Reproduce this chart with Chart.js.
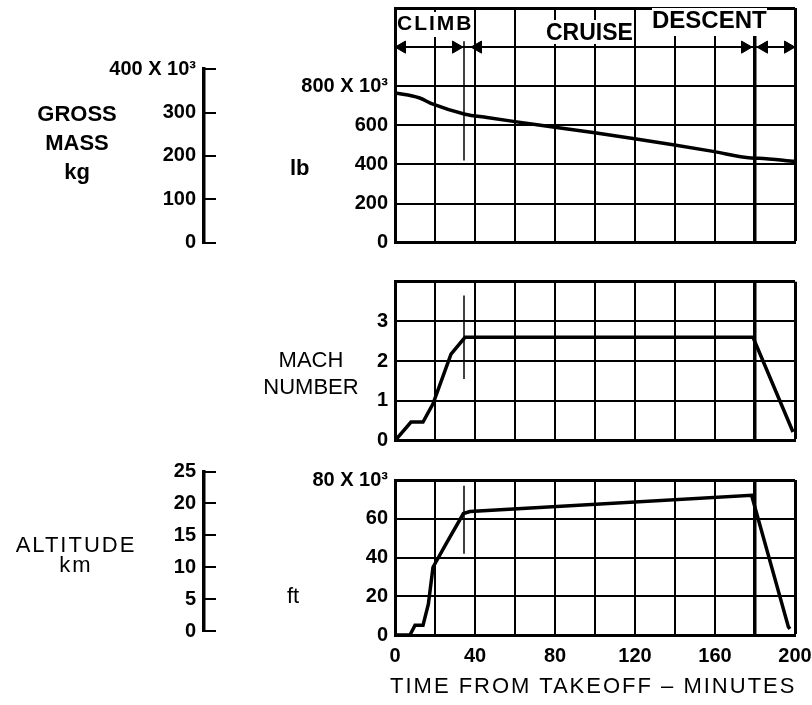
<!DOCTYPE html>
<html lang="en">
<head>
<meta charset="UTF-8">
<title>Mission profile</title>
<script src="https://cdn.jsdelivr.net/npm/chart.js"></script>
<style>
  body { margin: 0; background: #fff; color: #000; font-family: "Liberation Sans", Arial, sans-serif; }
  #wrap { position: relative; width: 812px; height: 705px; overflow: hidden; }
  canvas { position: absolute; left: 0; }
  .txt { position: absolute; font-size: 22px; line-height: 29px; white-space: nowrap; }
  .b { font-weight: bold; }
  .phase { position: absolute; background: #fff; font-weight: bold; white-space: nowrap; }
</style>
</head>
<body>
<div id="wrap">
  <canvas id="massChart" width="812" height="260" style="top:0"></canvas>
  <canvas id="machChart" width="812" height="185" style="top:270px"></canvas>
  <canvas id="altChart" width="812" height="240" style="top:465px"></canvas>
  <canvas id="kgAxis" width="240" height="200" style="top:60px"></canvas>
  <canvas id="kmAxis" width="240" height="190" style="top:455px"></canvas>

  <div class="phase" style="left:397px;top:11.7px;font-size:21px;line-height:22px;letter-spacing:2px;padding-bottom:3px">CLIMB</div>
  <div class="phase" style="left:546px;top:20px;font-size:23px;line-height:24px">CRUISE</div>
  <div class="phase" style="left:652px;top:7.7px;font-size:24px;line-height:24px;padding-bottom:4px">DESCENT</div>

  <div class="txt b" style="left:17px;top:98.6px;width:120px;text-align:center">GROSS<br>MASS<br>kg</div>
  <div class="txt b" style="left:290px;top:153px">lb</div>
  <div class="txt" style="left:251px;top:345.6px;width:120px;text-align:center;line-height:27px">MACH<br>NUMBER</div>
  <div class="txt" style="left:14px;top:535.4px;width:124px;text-align:center;line-height:20px;letter-spacing:2px">ALTITUDE<br>km</div>
  <div class="txt" style="left:287px;top:581px">ft</div>
  <div class="txt" style="left:390px;top:671px;letter-spacing:2px">TIME FROM TAKEOFF – MINUTES</div>
</div>

<script>
  // time axis, minutes
  const timeLabels = [0, 40, 80, 120, 160, 200];

  // flight phases (minutes)
  const phaseStart = [0, 38, 181];
  const phaseEnd = [34, 178.5, 200];
  const climbEnd = 34.5;
  const descentStart = 180;

  // gross mass, lb x 10^3
  const massTime = [0, 12, 19, 35, 46, 60, 79, 99, 119, 139, 159, 178, 182, 200];
  const massLb = [766, 741, 708, 657, 640, 619, 592, 563, 533, 501, 467, 433, 432, 416];
  const massTicks = [0, 200, 400, 600, 800];
  const massMarker = [1030, 420];
  const kgTicks = [0, 100, 200, 300, 400];

  // mach number
  const machTime = [0, 8, 14, 19, 28, 35, 179, 199];
  const machNum = [0, 0.47, 0.47, 0.93, 2.18, 2.6, 2.6, 0.22];
  const machTicks = [0, 1, 2, 3];
  const machMarker = [3.65, 1.55];

  // altitude, ft x 10^3
  const altTime = [0, 7.5, 10, 14, 16.7, 19, 25.8, 34.2, 37.5, 178.3, 196.7, 197.5];
  const altFt = [0, 0, 5, 5, 16, 35, 47.5, 62.7, 63.7, 72.1, 4.2, 3.2];
  const altTicks = [0, 20, 40, 60, 80];
  const altMarker = [77, 42];
  const kmTicks = [0, 5, 10, 15, 20, 25];

  Chart.defaults.font.family = '"Liberation Sans", Arial, sans-serif';
  Chart.defaults.color = '#000';
  Chart.defaults.animation = false;

  const tickFont = { size: 20, weight: 'bold' };
  const xy = (xs, ys) => xs.map((x, i) => ({ x: x, y: ys[i] }));

  function tickLabel(list) {
    return v => list.includes(v) ? (v === list[list.length - 1] ? v + ' X 10³' : String(v)) : '';
  }

  function curve(xs, ys, smooth) {
    return {
      data: xy(xs, ys), borderColor: '#000', borderWidth: 3.5, pointRadius: 0,
      cubicInterpolationMode: smooth ? 'monotone' : 'default', tension: 0
    };
  }

  function marker(span) {
    return { data: [{ x: climbEnd, y: span[0] }, { x: climbEnd, y: span[1] }],
             borderColor: '#000', borderWidth: 1.5, pointRadius: 0 };
  }

  // keep label overflow from pushing the plot area around
  function noPad(s) {
    s.paddingTop = 0; s.paddingBottom = 0; s.paddingLeft = 0; s.paddingRight = 0;
  }

  function panel(id, o) {
    return new Chart(document.getElementById(id), {
      type: 'line',
      data: { datasets: o.datasets },
      options: {
        responsive: false,
        layout: { padding: o.padding },
        plugins: { legend: { display: false }, tooltip: { enabled: false } },
        scales: {
          x: {
            type: 'linear', min: 0, max: 200,
            grid: {
              color: '#000', drawTicks: false,
              lineWidth: c => c.tick.value === descentStart ? 3.5 : (c.tick.value === 200 ? 3 : 2)
            },
            border: { color: '#000', width: 3 },
            ticks: o.showX ? {
              stepSize: 20, autoSkip: false, maxRotation: 0, padding: 9, font: tickFont,
              callback: v => timeLabels.includes(v) ? String(v) : ''
            } : { display: false, stepSize: 20 },
            afterFit: s => { s.height = o.xHeight; noPad(s); }
          },
          y: {
            min: 0, max: o.max,
            grid: {
              color: '#000', drawTicks: false,
              lineWidth: c => c.tick.value === o.max ? 3 : 2
            },
            border: { color: '#000', width: 3 },
            ticks: { stepSize: o.step, padding: 7, font: tickFont, autoSkip: false, callback: o.label },
            afterFit: s => { s.width = 395; noPad(s); }
          }
        }
      }
    });
  }

  function sideAxis(id, ticks, step, suffix, padding) {
    const max = ticks[ticks.length - 1];
    return new Chart(document.getElementById(id), {
      type: 'line',
      data: { datasets: [] },
      options: {
        responsive: false,
        layout: { padding: padding },
        plugins: { legend: { display: false }, tooltip: { enabled: false } },
        scales: {
          x: { type: 'linear', display: false, min: 0, max: 1 },
          y: {
            min: 0, max: max,
            grid: { drawOnChartArea: false, drawTicks: true, tickLength: -12, color: '#000', lineWidth: 2 },
            border: { color: '#000', width: 3.5 },
            ticks: {
              stepSize: step, padding: 20, font: tickFont,
              callback: v => (suffix && v === max) ? v + ' X 10³' : String(v)
            },
            afterFit: s => { s.width = 204; noPad(s); }
          }
        }
      }
    });
  }

  // arrow heads along the 1000 line of the top panel
  const headLen = 3.5;
  const arrowPts = [];
  const arrowRot = [];
  phaseStart.forEach((s, i) => {
    arrowPts.push({ x: s + headLen, y: 1000 }); arrowRot.push(-90);
    arrowPts.push({ x: phaseEnd[i] - headLen, y: 1000 }); arrowRot.push(90);
  });

  panel('massChart', {
    max: 1200, step: 200, label: tickLabel(massTicks), showX: false, xHeight: 0,
    padding: { top: 5, bottom: 17.3, right: 17 },
    datasets: [
      curve(massTime, massLb, true),
      marker(massMarker),
      { type: 'scatter', data: arrowPts, pointStyle: 'triangle', pointRadius: 7,
        pointRotation: arrowRot, backgroundColor: '#000', borderColor: '#000', borderWidth: 1 }
    ]
  });

  panel('machChart', {
    max: 4, step: 1, label: v => machTicks.includes(v) ? String(v) : '', showX: false, xHeight: 0,
    padding: { top: 11.7, bottom: 14.3, right: 17 },
    datasets: [curve(machTime, machNum, false), marker(machMarker)]
  });

  panel('altChart', {
    max: 80, step: 20, label: tickLabel(altTicks), showX: true, xHeight: 70,
    padding: { top: 15, bottom: 0, right: 17 },
    datasets: [curve(altTime, altFt, false), marker(altMarker)]
  });

  sideAxis('kgAxis', kgTicks, 100, true, { top: 9.1, bottom: 17.3, right: 10 });
  sideAxis('kmAxis', kmTicks, 5, false, { top: 16.5, bottom: 14, right: 10 });
</script>
</body>
</html>
